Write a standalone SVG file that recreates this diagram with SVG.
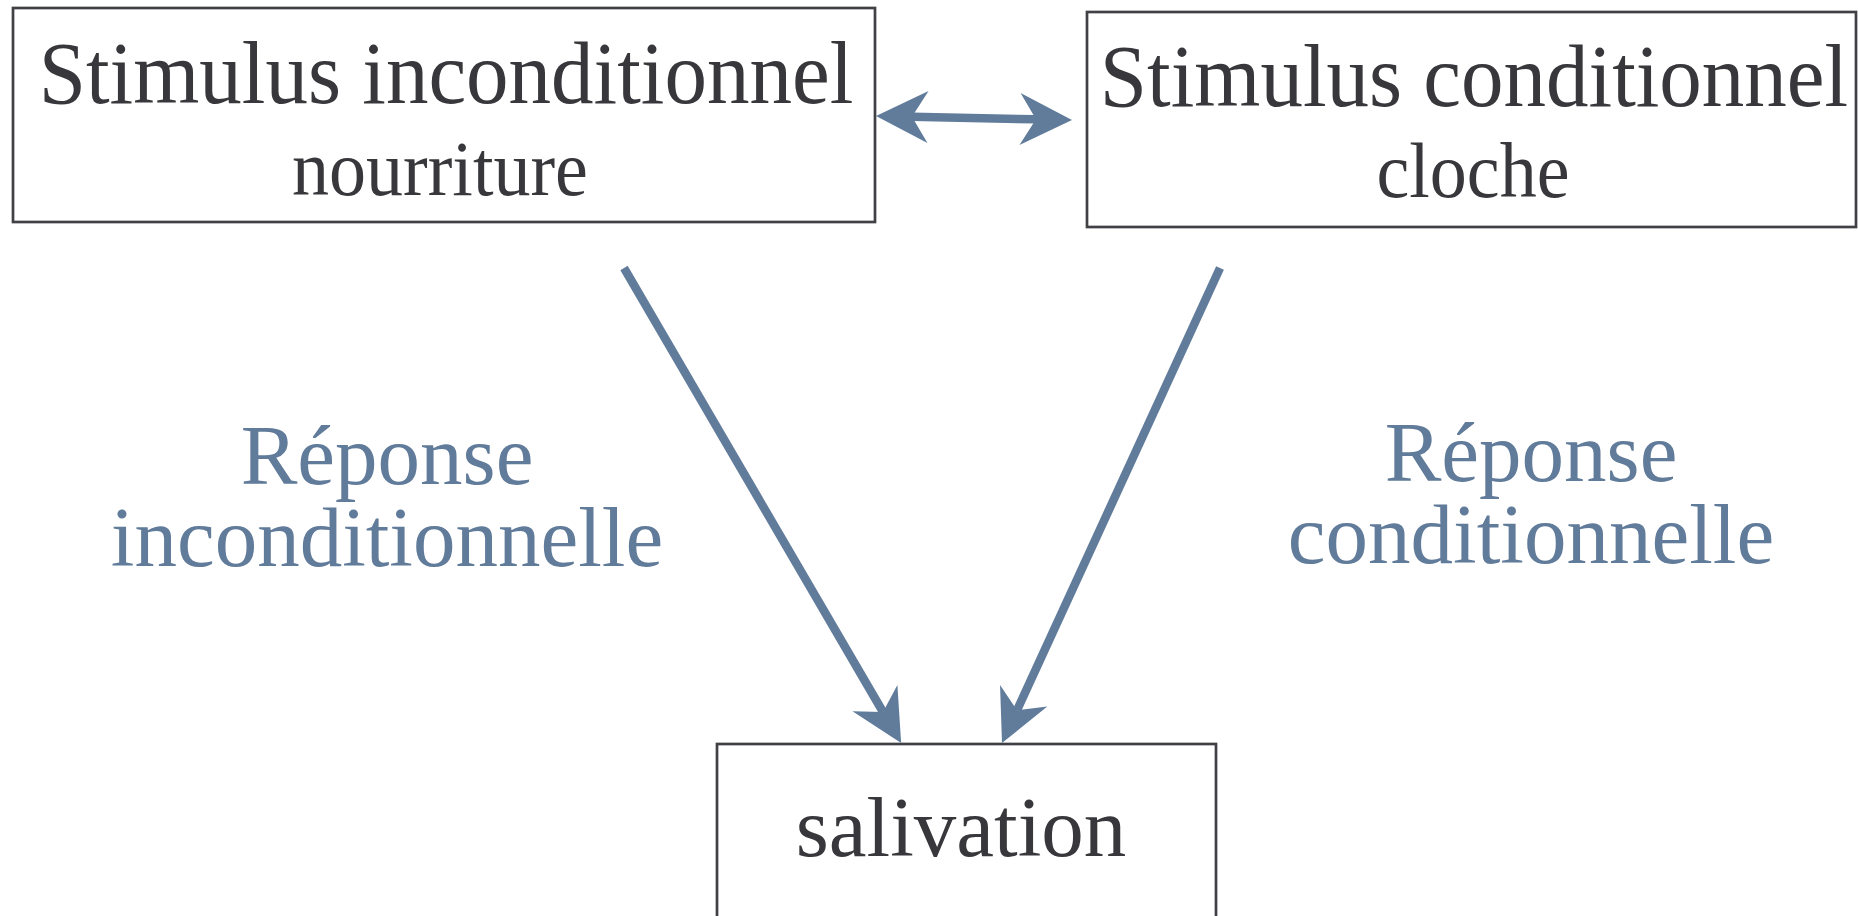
<svg xmlns="http://www.w3.org/2000/svg" width="1858" height="916" viewBox="0 0 1858 916">
<defs>
<style>
.box{fill:#ffffff;stroke:#414145;stroke-width:2.7}
.t{font-family:"Liberation Serif","Times New Roman",serif;fill:#38383c;text-anchor:middle}
.big{font-size:85px}
.sub{font-size:74px}
.lbl{font-family:"Liberation Serif","Times New Roman",serif;fill:#617b9a;font-size:85px;text-anchor:middle}
.conn{stroke:#617c9b;stroke-width:8.5;fill:none}
</style>
<marker id="ah" markerUnits="userSpaceOnUse" viewBox="-20 -30 60 60" markerWidth="60" markerHeight="60" refX="0" refY="0" orient="auto-start-reverse">
<path d="M36,0 L-16,-26 L0,0 L-16,26 Z" fill="#617c9b"/>
</marker>
</defs>
<rect width="1858" height="916" fill="#ffffff"/>
<g id="node-inconditionnel">
<rect class="box" x="13" y="8" width="862" height="214"/>
<text class="t big" transform="translate(446,103) scale(1,1.05)">Stimulus inconditionnel</text>
<text class="t sub" transform="translate(440,195) scale(1,1.07)">nourriture</text>
</g>
<g id="node-conditionnel">
<rect class="box" x="1087" y="12" width="769" height="215"/>
<text class="t big" transform="translate(1474,106) scale(1,1.05)">Stimulus conditionnel</text>
<text class="t sub" transform="translate(1473,197) scale(1,1.07)">cloche</text>
</g>
<g id="node-salivation">
<rect class="box" x="717" y="744" width="499" height="200"/>
<text class="t big" x="961" y="856">salivation</text>
</g>
<g id="label-left">
<text class="lbl" x="387" y="484">Réponse</text>
<text class="lbl" x="387" y="566">inconditionnelle</text>
</g>
<g id="label-right">
<text class="lbl" x="1531" y="481">Réponse</text>
<text class="lbl" x="1531" y="563">conditionnelle</text>
</g>
<g id="connectors">
<line class="conn" x1="912" y1="116.7" x2="1036" y2="119.3" marker-start="url(#ah)" marker-end="url(#ah)"/>
<line class="conn" x1="624" y1="268" x2="883" y2="712" marker-end="url(#ah)"/>
<line class="conn" x1="1220" y1="268" x2="1017" y2="710.3" marker-end="url(#ah)"/>
</g>
</svg>
